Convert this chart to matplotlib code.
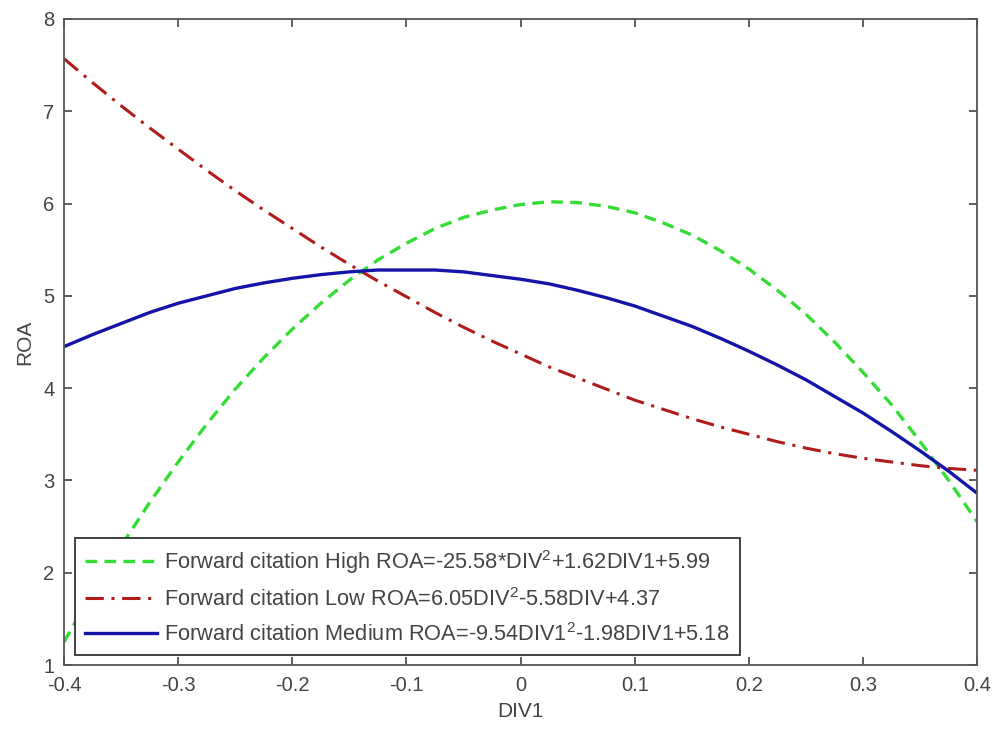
import numpy as np
import matplotlib.pyplot as plt

plt.rcParams['font.family'] = ['Liberation Sans', 'DejaVu Sans']
plt.rcParams['mathtext.fontset'] = 'custom'
plt.rcParams['mathtext.rm'] = 'Liberation Sans'

# values at steps of 0.025
div1 = [-0.400, -0.375, -0.350, -0.325, -0.300, -0.275, -0.250, -0.225,
        -0.200, -0.175, -0.150, -0.125, -0.100, -0.075, -0.050, -0.025,
        0.000, 0.025, 0.050, 0.075, 0.100, 0.125, 0.150, 0.175,
        0.200, 0.225, 0.250, 0.275, 0.300, 0.325, 0.350, 0.375, 0.400]
roa_high = [1.25, 1.79, 2.29, 2.76, 3.20, 3.61, 3.99, 4.33,
            4.64, 4.92, 5.17, 5.39, 5.57, 5.73, 5.85, 5.93,
            5.99, 6.02, 6.01, 5.97, 5.90, 5.79, 5.66, 5.49,
            5.29, 5.06, 4.80, 4.50, 4.17, 3.82, 3.42, 3.00, 2.55]
roa_low = [7.57, 7.31, 7.06, 6.82, 6.59, 6.36, 6.14, 5.93,
           5.73, 5.53, 5.34, 5.16, 4.99, 4.82, 4.66, 4.51,
           4.37, 4.23, 4.11, 3.99, 3.87, 3.77, 3.67, 3.58,
           3.50, 3.42, 3.35, 3.29, 3.24, 3.20, 3.16, 3.13, 3.11]
roa_medium = [4.45, 4.58, 4.70, 4.82, 4.92, 5.00, 5.08, 5.14,
              5.19, 5.23, 5.26, 5.28, 5.28, 5.28, 5.26, 5.22,
              5.18, 5.13, 5.06, 4.98, 4.89, 4.78, 4.67, 4.54,
              4.40, 4.25, 4.09, 3.91, 3.73, 3.53, 3.32, 3.10, 2.86]

labels = ["Forward citation High ROA=-25.58*DIV$^2$+1.62DIV1+5.99",
          "Forward citation Low ROA=6.05DIV$^2$-5.58DIV+4.37",
          "Forward citation Medium ROA=-9.54DIV1$^2$-1.98DIV1+5.18"]

fig = plt.figure(figsize=(9.97, 7.3), dpi=100)
ax = fig.add_axes([0.0642, 0.089, 0.916, 0.885])

ax.plot(div1, roa_high, color='#33dd33', lw=2.4, linestyle=(0, (3.5, 2.2)), label=labels[0])
ax.plot(div1, roa_low, color='#b01c1c', lw=2.2, linestyle=(0, (6, 2.5, 1, 2.5)), label=labels[1])
ax.plot(div1, roa_medium, color='#1414a8', lw=2.4, linestyle='-', label=labels[2])

ax.set_xlim(-0.4, 0.4)
ax.set_ylim(1, 8)
ax.set_xticks(np.arange(-0.4, 0.41, 0.1))
ax.set_xticklabels(['-0.4', '-0.3', '-0.2', '-0.1', '0', '0.1', '0.2', '0.3', '0.4'])
ax.set_yticks(range(1, 9))
ax.tick_params(direction='in', top=True, right=True, length=6, width=1.2,
               labelsize=14.5, labelcolor='#444444', color='#444444')
ax.tick_params(axis='x', pad=8)
ax.tick_params(axis='y', pad=7)
for s in ax.spines.values():
    s.set_color('#555555')
    s.set_linewidth(1.3)

ax.set_xlabel('DIV1', fontsize=15, color='#444444', labelpad=5)
ax.set_ylabel('ROA', fontsize=15, color='#444444', labelpad=6)

leg = ax.legend(loc='lower left', bbox_to_anchor=(0.012, 0.015), borderaxespad=0,
                fontsize=15.7, handlelength=3.3, handletextpad=0.35, labelspacing=0.55,
                borderpad=0.45, fancybox=False, framealpha=1, edgecolor='#333333')
leg.get_frame().set_linewidth(1.3)
for t in leg.get_texts():
    t.set_color('#444444')

fig.savefig('out.png', dpi=100)
